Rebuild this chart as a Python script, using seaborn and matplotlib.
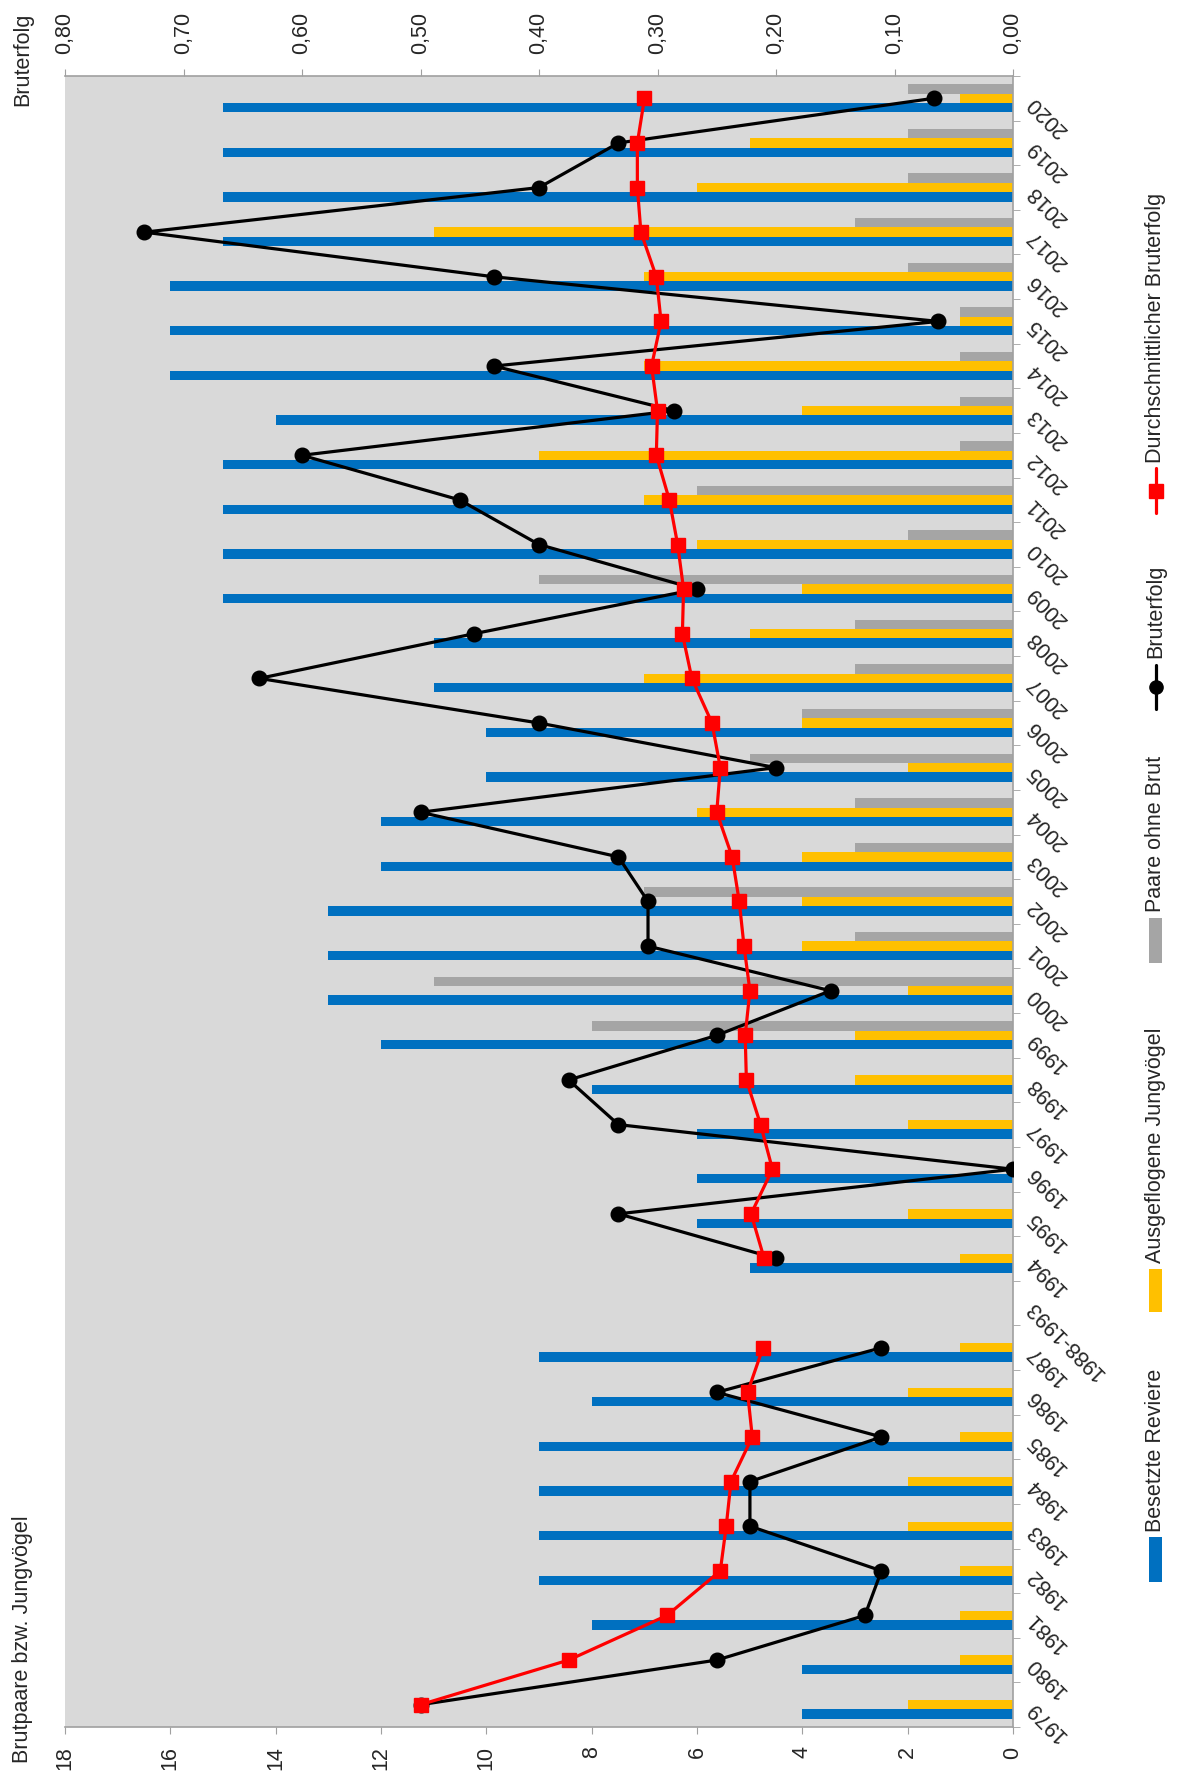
import numpy as np
import matplotlib
matplotlib.use("Agg")
import matplotlib.pyplot as plt
import pandas as pd
import seaborn as sns
from matplotlib.lines import Line2D
from matplotlib.patches import Rectangle

sns.set_style("white")
plt.rcParams['font.family'] = ['Liberation Sans', 'DejaVu Sans']

# Daten (von unten nach oben)
jahre = ['1979', '1980', '1981', '1982', '1983', '1984', '1985', '1986', '1987',
         '1988-1993', '1994', '1995', '1996', '1997', '1998', '1999', '2000',
         '2001', '2002', '2003', '2004', '2005', '2006', '2007', '2008', '2009',
         '2010', '2011', '2012', '2013', '2014', '2015', '2016', '2017', '2018',
         '2019', '2020']
reviere = [4, 4, 8, 9, 9, 9, 9, 8, 9,
           0, 5, 6, 6, 6, 8, 12, 13, 13, 13, 12, 12, 10, 10, 11, 11, 15,
           15, 15, 15, 14, 16, 16, 16, 15, 15, 15, 15]
jungvoegel = [2, 1, 1, 1, 2, 2, 1, 2, 1,
              0, 1, 2, 0, 2, 3, 3, 2, 4, 4, 4, 6, 2, 4, 7, 5, 4,
              6, 7, 9, 4, 7, 1, 7, 11, 6, 5, 1]
ohne_brut = [0, 0, 0, 0, 0, 0, 0, 0, 0,
             0, 0, 0, 0, 0, 0, 8, 11, 3, 7, 3, 3, 5, 4, 3, 3, 9,
             2, 6, 1, 1, 1, 1, 2, 3, 2, 2, 2]
bruterfolg = [0.5, 0.25, 0.125, 0.111, 0.222, 0.222, 0.111, 0.25, 0.111,
              np.nan, 0.2, 0.333, 0.0, 0.333, 0.375, 0.25, 0.154, 0.308, 0.308,
              0.333, 0.5, 0.2, 0.4, 0.636, 0.455, 0.267, 0.4, 0.467, 0.6,
              0.286, 0.438, 0.063, 0.438, 0.733, 0.4, 0.333, 0.067]
durchschnitt = [0.5, 0.375, 0.292, 0.247, 0.242, 0.238, 0.220, 0.224, 0.211,
                np.nan, 0.210, 0.221, 0.203, 0.213, 0.225, 0.226, 0.222, 0.227,
                0.231, 0.237, 0.250, 0.247, 0.254, 0.271, 0.279, 0.278, 0.283,
                0.290, 0.301, 0.300, 0.305, 0.297, 0.301, 0.314, 0.317, 0.317,
                0.311]

links_ticks = [0, 2, 4, 6, 8, 10, 12, 14, 16, 18]
rechts_ticks = [0.0, 0.1, 0.2, 0.3, 0.4, 0.5, 0.6, 0.7, 0.8]
rechts_labels = ['0,00', '0,10', '0,20', '0,30', '0,40', '0,50', '0,60', '0,70', '0,80']

serien = ['Besetzte Reviere', 'Ausgeflogene Jungvögel', 'Paare ohne Brut']

BLAU = '#0070C0'
GELB = '#FFC000'
GRAU = '#A5A5A5'
HINTERGRUND = '#D9D9D9'
ACHSE = '#A0A0A0'
FS = 15.5

W, H = 1178, 1773

df = pd.DataFrame({'Jahr': jahre, serien[0]: reviere,
                   serien[1]: jungvoegel, serien[2]: ohne_brut})
lang = df.melt(id_vars='Jahr', var_name='Serie', value_name='Wert')

fig = plt.figure(figsize=(W / 100, H / 100), dpi=100)
ax = fig.add_axes([65 / W, 1 - 1727 / H, 948 / W, 1651 / H])
ax.set_facecolor(HINTERGRUND)

sns.barplot(data=lang, x='Wert', y='Jahr', hue='Serie', order=jahre,
            hue_order=serien, palette=[BLAU, GELB, GRAU], orient='h',
            width=0.63, gap=0, errorbar=None, saturation=1, linewidth=0,
            legend=False, ax=ax)

n = len(jahre)
pos = np.arange(n)

# Bruterfolg auf zweiter Achse (oben)
ax2 = ax.twiny()
ax2.plot(bruterfolg, pos, color='black', lw=2.3, marker='o', ms=10.5)
ax2.plot(durchschnitt, pos, color='red', lw=2.3, marker='s', ms=10.5)
ax2.set_xlim(0.8, 0)
ax2.set_xticks(rechts_ticks, labels=rechts_labels)
ax2.tick_params(axis='x', direction='out', length=5, color=ACHSE,
                pad=11, labelsize=FS, labelrotation=90)
for s in ['left', 'right', 'bottom']:
    ax2.spines[s].set_visible(False)
ax2.spines['top'].set_color(ACHSE)
ax2.spines['top'].set_linewidth(1.2)

ax.set_xlim(18, 0)
ax.set_ylim(-0.5, n - 0.5)
ax.set_xlabel('')
ax.set_ylabel('')
ax.set_xticks(links_ticks)
ax.tick_params(axis='x', direction='out', length=5, color=ACHSE,
               pad=9, labelsize=FS, labelrotation=90, bottom=True)

ax.yaxis.tick_right()
ax.set_yticks(pos, labels=jahre)
ax.set_yticks(np.arange(-0.5, n), minor=True)
ax.tick_params(axis='y', which='major', length=0, pad=12, labelsize=FS,
               labelrotation=135)
ax.tick_params(axis='y', which='minor', direction='out', length=5,
               color=ACHSE, right=True, left=False)
plt.setp(ax.get_yticklabels(), ha='right', va='center', rotation_mode='anchor')

ax.spines['left'].set_visible(False)
ax.spines['top'].set_visible(False)
ax.spines['right'].set_color(ACHSE)
ax.spines['bottom'].set_color(ACHSE)
ax.spines['right'].set_linewidth(1.2)
ax.spines['bottom'].set_linewidth(1.2)
ax.grid(False)
ax2.grid(False)

# Achsentitel
fig.text(23 / W, 1 - 13 / H, 'Bruterfolg', rotation=90, ha='center', va='top',
         fontsize=FS)
fig.text(23 / W, 1 - 1763 / H, 'Brutpaare bzw. Jungvögel', rotation=90,
         ha='center', va='bottom', fontsize=FS)

# Legende (gedreht)
lx = 1155.5
for farbe, y0, y1 in [(BLAU, 1537, 1582), (GELB, 1269, 1312), (GRAU, 918, 963)]:
    fig.add_artist(Rectangle((lx - 6.5) / W * np.array([1, 0]) + np.array([0, 1 - y1 / H]),
                             13 / W, (y1 - y0) / H, transform=fig.transFigure,
                             facecolor=farbe, edgecolor='none'))
for farbe, mk, y0, y1 in [('black', 'o', 665, 709), ('red', 's', 468, 513)]:
    fig.add_artist(Line2D([lx / W, lx / W], [1 - y0 / H, 1 - y1 / H],
                          transform=fig.transFigure, color=farbe, lw=2.3))
    fig.add_artist(Line2D([lx / W], [1 - (y0 + y1) / 2 / H],
                          transform=fig.transFigure, color=farbe, marker=mk,
                          ms=9.5, lw=0))
for txt, yb in [(serien[0], 1532), (serien[1], 1263), (serien[2], 912),
                ('Bruterfolg', 658), ('Durchschnittlicher Bruterfolg', 463)]:
    fig.text(lx / W, 1 - yb / H, txt, rotation=90, ha='center', va='bottom',
             fontsize=FS)

fig.savefig('out.png', dpi=100)
